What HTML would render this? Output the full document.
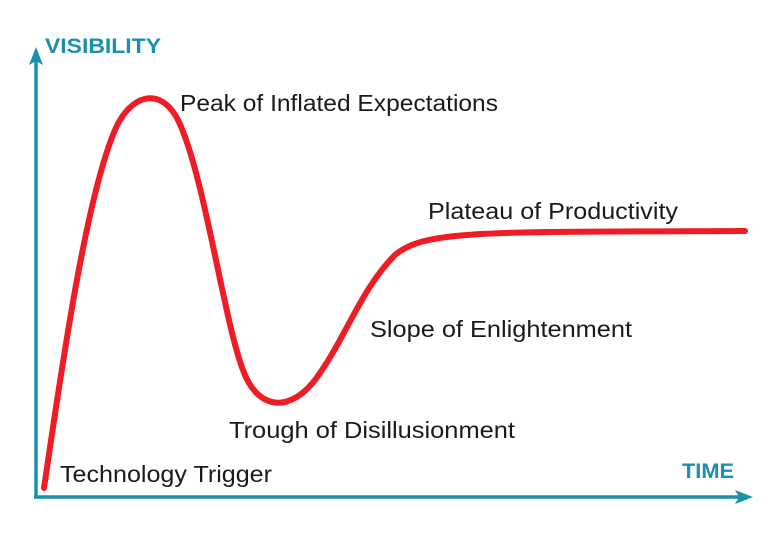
<!DOCTYPE html>
<html><head><style>body{margin:0;background:#fff}</style></head><body>
<svg width="782" height="540" xmlns="http://www.w3.org/2000/svg" font-family="Liberation Sans, sans-serif">
<rect width="782" height="540" fill="#fff"/>
<g stroke="#1a8fae" stroke-width="3.5" fill="none">
<line x1="36" y1="60" x2="36" y2="498"/>
<line x1="34" y1="497" x2="742" y2="497"/>
</g>
<polygon points="36,47 29,65 36,61 43,65" fill="#1a8fae"/>
<polygon points="753,497 735,490 739,497 735,504" fill="#1a8fae"/>
<text x="45" y="53" font-size="21" font-weight="bold" fill="#1a8fae" textLength="116" lengthAdjust="spacingAndGlyphs">VISIBILITY</text>
<text x="682" y="478" font-size="21" font-weight="bold" fill="#1a8fae" textLength="52" lengthAdjust="spacingAndGlyphs">TIME</text>
<path d="M44,488 C60,380 85,200 115,130 C130,95 160,85 178,120 C205,175 225,330 245,375 C260,410 290,412 315,380 C345,340 360,290 395,255 C425,230 480,232 745,231" stroke="#ee1c25" stroke-width="6" fill="none" stroke-linecap="round"/>
<g font-size="23" fill="#1a1a1a">
<text x="180" y="111" textLength="318" lengthAdjust="spacingAndGlyphs">Peak of Inflated Expectations</text>
<text x="428" y="219" textLength="250" lengthAdjust="spacingAndGlyphs">Plateau of Productivity</text>
<text x="370" y="337" textLength="262" lengthAdjust="spacingAndGlyphs">Slope of Enlightenment</text>
<text x="229" y="438" textLength="286" lengthAdjust="spacingAndGlyphs">Trough of Disillusionment</text>
<text x="60" y="482" textLength="212" lengthAdjust="spacingAndGlyphs">Technology Trigger</text>
</g>
</svg>
</body></html>
